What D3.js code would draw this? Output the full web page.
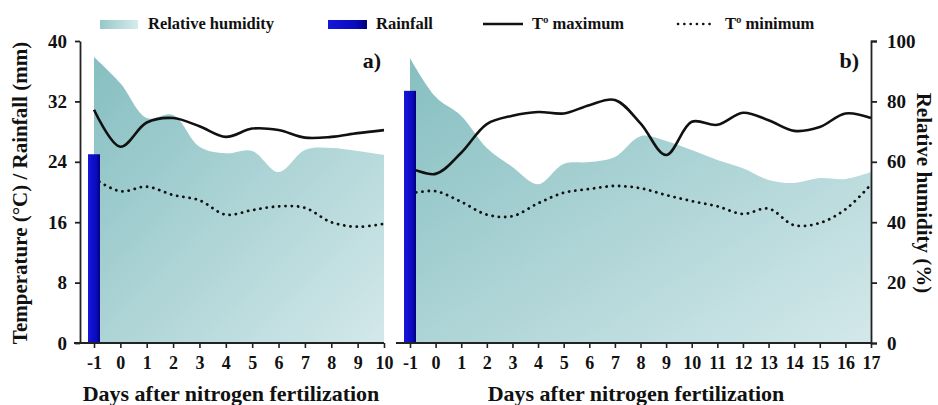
<!DOCTYPE html>
<html lang="en">
  <head>
    <meta charset="UTF-8" />
    <title>Weather after nitrogen fertilization</title>
    <script src="https://d3js.org/d3.v7.min.js"></script>
    <style>
      body { margin: 0; background: #fff; }
      svg text { font-family: "Liberation Serif", "Times New Roman", serif; font-weight: bold; fill: #111; }
    </style>
  </head>
  <body>
    <svg id="canvas"></svg>
  </body>
  <script>
    // panel a) days -1..10
    let daysA = [-1, 0, 1, 2, 3, 4, 5, 6, 7, 8, 9, 10];
    let humidityA = [94.7, 86, 74.5, 75.5, 65, 62.8, 63.6, 56.6, 63.9, 64.6, 63.6, 62.3];
    let tmaxA = [30.9, 26.0, 29.2, 29.8, 28.7, 27.3, 28.4, 28.2, 27.2, 27.3, 27.8, 28.2];
    let tminA = [21.8, 20.1, 20.7, 19.6, 18.9, 17.0, 17.6, 18.1, 17.9, 16.0, 15.4, 15.8];
    let rainA = [25];

    // panel b) days -1..17
    let daysB = [-1, 0, 1, 2, 3, 4, 5, 6, 7, 8, 9, 10, 11, 12, 13, 14, 15, 16, 17];
    let humidityB = [94.4, 81.5, 75.2, 64.6, 58.3, 52.6, 59.3, 59.9, 61.6, 68.5, 66.9, 63.9, 60.6, 57.9, 54.0, 53.0, 54.6, 54.3, 56.6];
    let tmaxB = [23.2, 22.4, 25.2, 29.0, 30.1, 30.6, 30.4, 31.5, 32.2, 29.1, 24.9, 29.3, 28.9, 30.5, 29.5, 28.1, 28.6, 30.4, 29.8];
    let tminB = [19.8, 20.1, 18.7, 17.0, 16.8, 18.5, 19.9, 20.4, 20.8, 20.5, 19.6, 18.8, 18.1, 17.1, 17.8, 15.6, 15.9, 17.7, 21.0];
    let rainB = [33.4];

    let tempTicks = [0, 8, 16, 24, 32, 40];
    let humTicks = [0, 20, 40, 60, 80, 100];

    let width = 938;
    let height = 405;

    let svg = d3.select("svg").attr("width", width).attr("height", height);
    let defs = svg.append("defs");

    let areaGrad = defs.append("linearGradient").attr("id", "humGrad")
      .attr("x1", 0).attr("y1", 0).attr("x2", 1).attr("y2", 1);
    areaGrad.append("stop").attr("offset", "0%").attr("stop-color", "#86bfc1");
    areaGrad.append("stop").attr("offset", "100%").attr("stop-color", "#d3e8ea");

    let legGrad = defs.append("linearGradient").attr("id", "legGrad");
    legGrad.append("stop").attr("offset", "0%").attr("stop-color", "#96c8c9");
    legGrad.append("stop").attr("offset", "100%").attr("stop-color", "#d7ebec");

    let barGrad = defs.append("linearGradient").attr("id", "barGrad");
    barGrad.append("stop").attr("offset", "0%").attr("stop-color", "#1616d8");
    barGrad.append("stop").attr("offset", "70%").attr("stop-color", "#0a0ac0");
    barGrad.append("stop").attr("offset", "100%").attr("stop-color", "#000078");

    let yT = d3.scaleLinear().domain([0, 40]).range([343, 41]);
    let yH = d3.scaleLinear().domain([0, 100]).range([343, 41]);
    let xA = d3.scaleLinear().domain([-1, 10]).range([94, 384]);
    let xB = d3.scaleLinear().domain([-1, 17]).range([410, 871]);

    let curve = d3.curveCatmullRom.alpha(0.5);

    let drawPanel = (x, days, hum, tmax, tmin, rain) => {
      let g = svg.append("g");
      let area = d3.area().curve(curve)
        .x((d, i) => x(days[i])).y0(yH(0)).y1((d) => yH(d));
      g.append("path").datum(hum).attr("d", area).attr("fill", "url(#humGrad)");

      let line = (vals) => d3.line().curve(curve).x((d, i) => x(days[i])).y((d) => yT(d))(vals);
      g.append("path").attr("d", line(tmax)).attr("fill", "none")
        .attr("stroke", "#111").attr("stroke-width", 2.6);
      g.append("path").attr("d", line(tmin)).attr("fill", "none")
        .attr("stroke", "#111").attr("stroke-width", 2.8)
        .attr("stroke-linecap", "round").attr("stroke-dasharray", "0.1 6.2");

      g.selectAll("rect.bar").data(rain).enter().append("rect")
        .attr("class", "bar")
        .attr("x", x(days[0]) - 6).attr("width", 12)
        .attr("y", (d) => yT(d)).attr("height", (d) => yT(0) - yT(d))
        .attr("fill", "url(#barGrad)");

      let xAxis = d3.axisBottom(x).tickValues(days).tickFormat((d) => String(d))
        .tickSize(5).tickPadding(8);
      let ax = g.append("g").attr("transform", "translate(0," + yT(0) + ")").call(xAxis);
      ax.select(".domain").remove();
      ax.selectAll("text").attr("font-size", 18).attr("fill", "#111");
      ax.selectAll("line").attr("stroke", "#222").attr("stroke-width", 1.6);
      return ax;
    };

    let axA = drawPanel(xA, daysA, humidityA, tmaxA, tminA, rainA);
    axA.append("line").attr("x1", 74).attr("x2", xA.range()[1])
      .attr("stroke", "#222").attr("stroke-width", 1.8);
    let axB = drawPanel(xB, daysB, humidityB, tmaxB, tminB, rainB);
    axB.append("line").attr("x1", 396).attr("x2", xB.range()[1])
      .attr("stroke", "#222").attr("stroke-width", 1.8);

    // left axis
    let yAxis = d3.axisLeft(yT).tickValues(tempTicks).tickSize(5).tickSizeOuter(0).tickPadding(8);
    let ay = svg.append("g").attr("transform", "translate(80,0)").call(yAxis);
    ay.selectAll("text").attr("font-size", 19).attr("fill", "#111");
    ay.selectAll("line, path").attr("stroke", "#222").attr("stroke-width", 1.8);

    // right axis
    let hAxis = d3.axisRight(yH).tickValues(humTicks).tickSize(6).tickSizeOuter(6).tickPadding(10);
    let ah = svg.append("g").attr("transform", "translate(" + xB.range()[1] + ",0)").call(hAxis);
    ah.selectAll("text").attr("font-size", 19).attr("fill", "#111");
    ah.selectAll("line, path").attr("stroke", "#222").attr("stroke-width", 1.8);

    // panel labels
    svg.append("text").attr("x", 381).attr("y", 68).attr("text-anchor", "end")
      .attr("font-size", 22).text("a)");
    svg.append("text").attr("x", 859).attr("y", 68).attr("text-anchor", "end")
      .attr("font-size", 22).text("b)");

    // axis titles
    svg.append("text").attr("transform", "translate(27,193) rotate(-90)")
      .attr("text-anchor", "middle").attr("font-size", 21)
      .text("Temperature (°C) / Rainfall (mm)");
    svg.append("text").attr("transform", "translate(917,193) rotate(90)")
      .attr("text-anchor", "middle").attr("font-size", 21)
      .text("Relative humidity (%)");
    svg.append("text").attr("x", 231).attr("y", 401).attr("text-anchor", "middle")
      .attr("font-size", 22).text("Days after nitrogen fertilization");
    svg.append("text").attr("x", 636).attr("y", 401).attr("text-anchor", "middle")
      .attr("font-size", 22).text("Days after nitrogen fertilization");

    // legend
    let leg = svg.append("g");
    leg.append("rect").attr("x", 100).attr("y", 20).attr("width", 38).attr("height", 9)
      .attr("fill", "url(#legGrad)");
    leg.append("text").attr("x", 148).attr("y", 29).attr("font-size", 16.5).text("Relative humidity");
    leg.append("rect").attr("x", 328).attr("y", 20).attr("width", 39).attr("height", 9)
      .attr("fill", "url(#barGrad)");
    leg.append("text").attr("x", 376).attr("y", 29).attr("font-size", 16.5).text("Rainfall");
    leg.append("line").attr("x1", 483).attr("x2", 523).attr("y1", 24).attr("y2", 24)
      .attr("stroke", "#111").attr("stroke-width", 2.4);
    leg.append("text").attr("x", 532).attr("y", 29).attr("font-size", 16.5).text("Tº maximum");
    leg.append("line").attr("x1", 678).attr("x2", 714).attr("y1", 24).attr("y2", 24)
      .attr("stroke", "#111").attr("stroke-width", 2.6)
      .attr("stroke-linecap", "round").attr("stroke-dasharray", "0.1 6.2");
    leg.append("text").attr("x", 725).attr("y", 29).attr("font-size", 16.5).text("Tº minimum");
  </script>
</html>
